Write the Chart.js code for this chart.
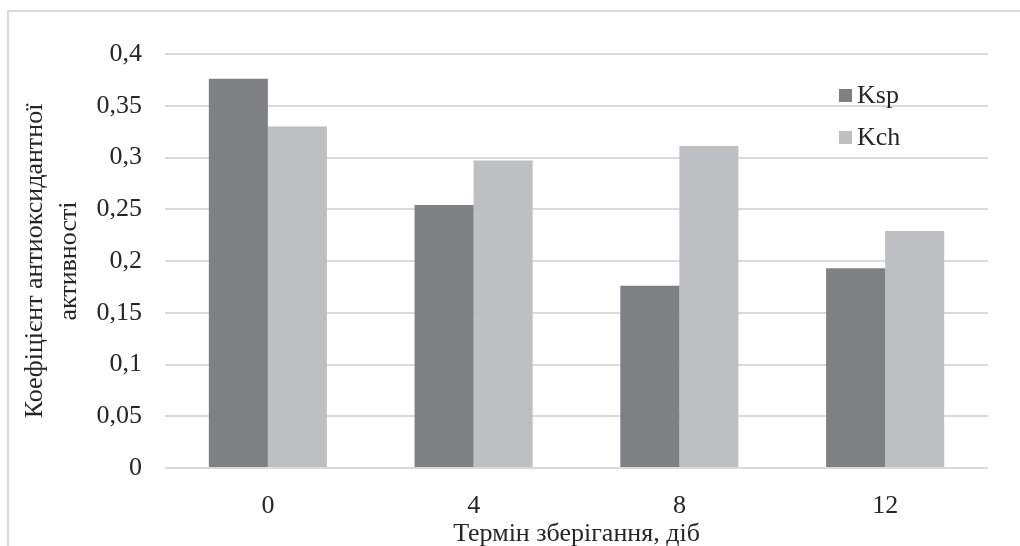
<!DOCTYPE html>
<html>
<head>
<meta charset="utf-8">
<script src="https://cdn.jsdelivr.net/npm/chart.js@4/dist/chart.umd.min.js"></script>
<style>
    html, body { margin: 0; padding: 0; background: #fff; }
    #wrap { width: 1020px; height: 546px; position: relative; }
</style>
</head>
<body>
<div id="wrap"><canvas id="chart" width="1020" height="546"></canvas></div>
<script>
// Chart data
const categories = ['0', '4', '8', '12'];
const kspValues = [0.376, 0.254, 0.176, 0.193];
const kchValues = [0.330, 0.297, 0.311, 0.229];
const yTickLabels = ['0', '0,05', '0,1', '0,15', '0,2', '0,25', '0,3', '0,35', '0,4'];
const seriesNames = ['Ksp', 'Kch'];

const FONT = "'Liberation Serif', 'Times New Roman', serif";
const TEXT = '#262626';
const GRID = '#d9d9d9';

// Frame lines + legend drawn inside plot area
const framePlugin = {
    id: 'frame',
    beforeDraw(chart) {
        const ctx = chart.ctx;
        ctx.save();
        ctx.fillStyle = '#fff';
        ctx.fillRect(0, 0, chart.width, chart.height);
        ctx.strokeStyle = GRID;
        ctx.lineWidth = 2;
        ctx.beginPath();
        ctx.moveTo(8, chart.height);
        ctx.lineTo(8, 11);
        ctx.lineTo(chart.width, 11);
        ctx.stroke();
        ctx.restore();
    },
    afterDraw(chart) {
        const ctx = chart.ctx;
        ctx.save();
        ctx.font = '26px ' + FONT;
        ctx.textBaseline = 'middle';
        chart.data.datasets.forEach((ds, i) => {
            const y = 95 + i * 42;
            ctx.fillStyle = ds.backgroundColor;
            ctx.fillRect(839, y - 6, 13, 13);
            ctx.fillStyle = TEXT;
            ctx.fillText(ds.label, 857, y + 1);
        });
        ctx.restore();
    }
};

new Chart(document.getElementById('chart'), {
    type: 'bar',
    data: {
        labels: categories,
        datasets: [
            { label: seriesNames[0], data: kspValues, backgroundColor: '#7f8084' },
            { label: seriesNames[1], data: kchValues, backgroundColor: '#bebfc3' }
        ]
    },
    options: {
        responsive: false,
        animation: false,
        devicePixelRatio: 1,
        layout: { padding: { top: 54, right: 32, left: 0, bottom: 0 } },
        datasets: {
            bar: { categoryPercentage: 0.574, barPercentage: 1 }
        },
        plugins: {
            legend: { display: false },
            tooltip: { enabled: false }
        },
        scales: {
            x: {
                grid: { display: false },
                border: { display: false },
                ticks: { color: TEXT, font: { family: FONT, size: 26 }, padding: 15 },
                title: {
                    display: true,
                    text: 'Термін зберігання, діб',
                    color: TEXT,
                    font: { family: FONT, size: 26, lineHeight: 1.0 },
                    padding: { top: 0, bottom: -1 }
                },
                afterFit(scale) { scale.height = 78; }
            },
            y: {
                min: 0,
                max: 0.4,
                ticks: {
                    stepSize: 0.05,
                    color: TEXT,
                    font: { family: FONT, size: 26 },
                    padding: 23,
                    callback: (v, i) => yTickLabels[i]
                },
                grid: { color: GRID, lineWidth: 2, drawTicks: false },
                border: { display: false },
                title: {
                    display: true,
                    text: ['Коефіцієнт антиоксидантної', 'активності'],
                    color: TEXT,
                    font: { family: FONT, size: 26, lineHeight: 1.3 },
                    padding: { top: 18, bottom: 0 }
                },
                afterFit(scale) { scale.width = 165; }
            }
        }
    },
    plugins: [framePlugin]
});
</script>
</body>
</html>
